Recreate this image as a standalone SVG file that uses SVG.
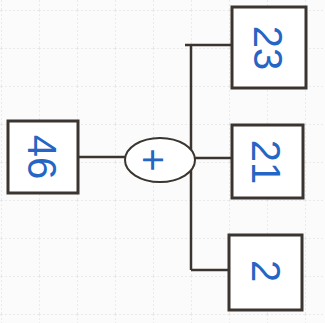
<svg xmlns="http://www.w3.org/2000/svg" width="325" height="323" viewBox="0 0 325 323">
<defs>
<style>
.grid{stroke:#dcdcdc;stroke-width:1;stroke-dasharray:2 2}
.box{fill:#fff;stroke:#3a3530;stroke-width:3}
.edge{fill:none;stroke:#3a3530;stroke-width:2.5}
.lbl{font-family:"Liberation Sans",Arial,sans-serif;font-size:40px;fill:#2566c4;text-anchor:middle;dominant-baseline:central}
</style>
<pattern id="g" width="38" height="38" patternUnits="userSpaceOnUse" x="1" y="10">
<path class="grid" d="M0 0H38M0 0V38"/>
</pattern>
</defs>
<rect width="325" height="323" fill="#fbfbfb"/>
<rect width="325" height="323" fill="url(#g)"/>
<g id="connectors">
<path class="edge" d="M78 157H125"/>
<path class="edge" d="M191 45V270"/>
<path class="edge" d="M185 45H232"/>
<path class="edge" d="M195 158H232"/>
<path class="edge" d="M191 270H229"/>
</g>
<g id="n46">
<rect class="box" x="8" y="121" width="70" height="72"/>
<text class="lbl" transform="translate(42 157) rotate(90)">46</text>
</g>
<g id="plus">
<ellipse cx="160" cy="160" rx="35" ry="22" fill="#fff" stroke="#3a3530" stroke-width="2"/>
<text class="lbl" transform="translate(153 160) rotate(90)" font-size="34">+</text>
</g>
<g id="n23">
<rect class="box" x="232" y="7" width="74" height="81"/>
<text class="lbl" transform="translate(268 48) rotate(90)">23</text>
</g>
<g id="n21">
<rect class="box" x="232" y="125" width="71" height="73"/>
<text class="lbl" transform="translate(266 162) rotate(90)">21</text>
</g>
<g id="n2">
<rect class="box" x="229" y="235" width="73" height="75"/>
<text class="lbl" transform="translate(266 271) rotate(90)">2</text>
</g>
</svg>
